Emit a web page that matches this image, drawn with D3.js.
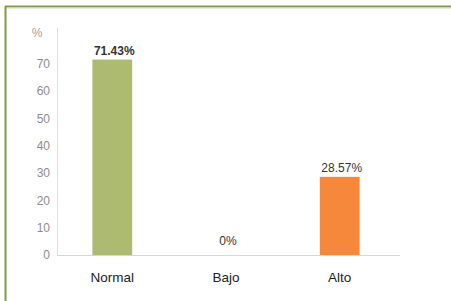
<!DOCTYPE html>
<html>
<head>
    <title>Nivel - porcentaje</title>
    <script src="https://d3js.org/d3.v7.min.js"></script>
    <style>
        body { margin: 0; background: #fff; }
        svg { display: block; font-family: "Liberation Sans", Arial, sans-serif; }
    </style>
</head>
<body>
    <svg width="451" height="301"></svg>
    <script>
        // data
        const categories = ["Normal", "Bajo", "Alto"];
        const percents = [71.43, 0, 28.57];
        const barColors = ["#adbb70", "#adbb70", "#f5883a"];
        const tickValues = [0, 10, 20, 30, 40, 50, 60, 70];

        const svg = d3.select("svg");

        // green frame (top and left only, as in the picture)
        svg.append("line")
            .attr("x1", 5).attr("x2", 451)
            .attr("y1", 6.5).attr("y2", 6.5)
            .attr("stroke", "#7d9b45").attr("stroke-width", 2);
        svg.append("line")
            .attr("x1", 5).attr("x2", 451)
            .attr("y1", 8).attr("y2", 8)
            .attr("stroke", "#d3dfbd").attr("stroke-width", 1);
        svg.append("line")
            .attr("x1", 5.5).attr("x2", 5.5)
            .attr("y1", 6).attr("y2", 301)
            .attr("stroke", "#7d9b45").attr("stroke-width", 2);

        const x = d3.scaleBand()
            .domain(categories)
            .range([56, 396])
            .paddingInner(0.65)
            .paddingOuter(0.32);

        const y = d3.scaleLinear()
            .domain([0, 70])
            .range([255, 63.5]);

        const g = svg.append("g");

        // y axis
        const yAxis = g.append("g")
            .attr("transform", "translate(57,0)")
            .call(d3.axisLeft(y).tickValues(tickValues).tickSize(0).tickPadding(7));
        yAxis.select(".domain").remove();
        yAxis.selectAll("text")
            .attr("fill", "#8c8c8c")
            .style("font-size", "12px");

        g.append("line")
            .attr("x1", 57.5).attr("x2", 57.5)
            .attr("y1", 28).attr("y2", 255)
            .attr("stroke", "#dcdcdc");
        g.append("line")
            .attr("x1", 57).attr("x2", 400)
            .attr("y1", 255.5).attr("y2", 255.5)
            .attr("stroke", "#d6d6d6");

        g.append("text")
            .attr("x", 37).attr("y", 37)
            .attr("text-anchor", "middle")
            .attr("fill", "#a0a0a0")
            .style("font-size", "12px")
            .text("%");

        // bars
        g.selectAll(".bar")
            .data(categories)
            .enter()
            .append("rect")
            .attr("class", "bar")
            .attr("x", d => x(d))
            .attr("y", (d, i) => y(percents[i]))
            .attr("width", x.bandwidth())
            .attr("height", (d, i) => y(0) - y(percents[i]))
            .attr("fill", (d, i) => barColors[i]);

        // value labels
        g.selectAll(".val")
            .data(categories)
            .enter()
            .append("text")
            .attr("class", "val")
            .attr("x", d => x(d) + x.bandwidth() / 2 + 2)
            .attr("y", (d, i) => y(percents[i]) - (percents[i] === 0 ? 10 : 5))
            .attr("text-anchor", "middle")
            .attr("fill", "#333")
            .style("font-size", "12px")
            .style("font-weight", (d, i) => i === 0 ? "bold" : "normal")
            .text((d, i) => percents[i] + "%");

        // category labels
        g.selectAll(".cat")
            .data(categories)
            .enter()
            .append("text")
            .attr("class", "cat")
            .attr("x", d => x(d) + x.bandwidth() / 2)
            .attr("y", 282)
            .attr("text-anchor", "middle")
            .attr("fill", "#222")
            .style("font-size", "13.5px")
            .text(d => d);
    </script>
</body>
</html>
